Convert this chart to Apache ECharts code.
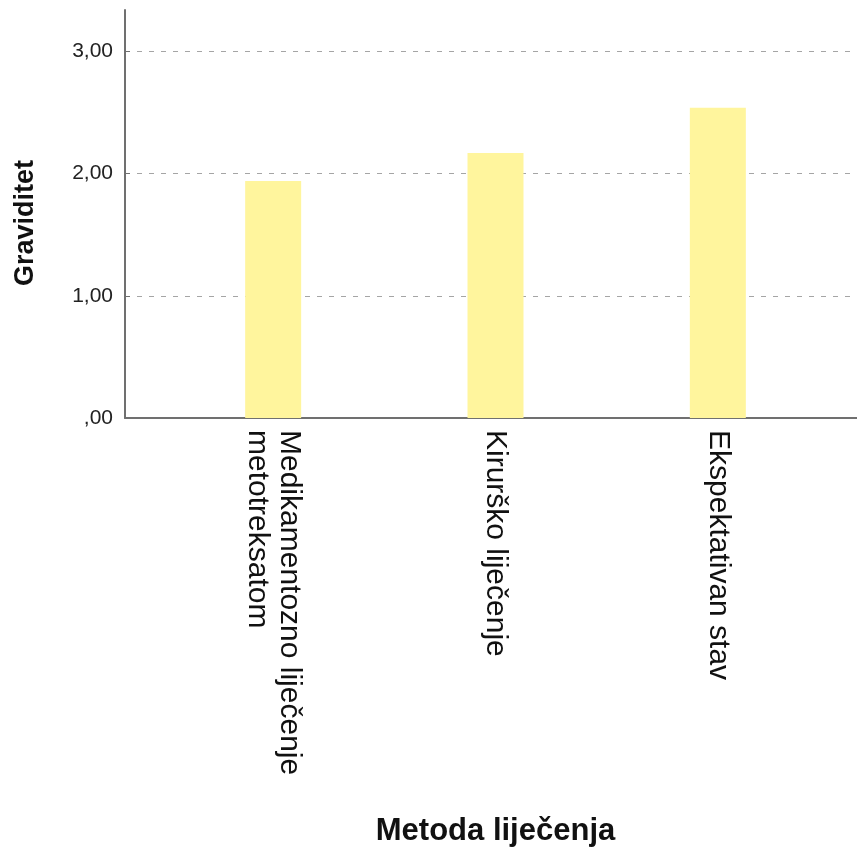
<!DOCTYPE html>
<html>
<head>
<meta charset="utf-8">
<script src="https://cdn.jsdelivr.net/npm/echarts@6/dist/echarts.min.js"></script>
<style>
html,body{margin:0;padding:0;background:#fff;}
#chart{width:857px;height:849px;}
</style>
</head>
<body>
<div id="chart"></div>
<script>
const categories = ['Medikamentozno liječenje\nmetotreksatom', 'Kirurško liječenje', 'Ekspektativan stav'];
const values = [1.94, 2.17, 2.54];
const yTicks = [0, 1, 2, 3];
const yTickLabels = [',00', '1,00', '2,00', '3,00'];
const yTitle = 'Graviditet';
const xTitle = 'Metoda liječenja';

const FONT = '"Liberation Sans", Arial, sans-serif';
const Y_MAX = 3.34;

const chart = echarts.init(document.getElementById('chart'), null, {renderer: 'canvas'});
chart.setOption({
  animation: false,
  backgroundColor: '#ffffff',
  grid: [
    {left: 125, right: 0, top: 10, bottom: 431, containLabel: false},
    {left: 162, right: 28, top: 10, bottom: 431, containLabel: false}
  ],
  xAxis: [
    {
      gridIndex: 0, type: 'value', min: 0, max: 1,
      axisLine: {show: true, onZero: false, lineStyle: {color: '#707070', width: 2}},
      axisTick: {show: false}, axisLabel: {show: false}, splitLine: {show: false}
    },
    {
      gridIndex: 1, type: 'category', data: categories,
      axisLine: {show: false}, axisTick: {show: false},
      axisLabel: {
        interval: 0, rotate: -90, margin: 12,
        fontFamily: FONT, fontSize: 30, color: '#111', lineHeight: 32,
        padding: [8, 0, 0, 0]
      },
      name: xTitle, nameLocation: 'middle', nameGap: 398,
      nameTextStyle: {fontFamily: FONT, fontSize: 31, fontWeight: 'bold', color: '#111'}
    }
  ],
  yAxis: [
    {
      gridIndex: 0, type: 'value', min: 0, max: Y_MAX, interval: 1,
      axisLine: {show: true, lineStyle: {color: '#707070', width: 2}},
      axisTick: {show: true, inside: true, length: 5, lineStyle: {color: '#707070', width: 1}},
      axisLabel: {
        margin: 12, fontFamily: FONT, fontSize: 21, color: '#222',
        showMaxLabel: false,
        formatter: function (v) {
          const i = yTicks.indexOf(Math.round(v * 100) / 100);
          return i >= 0 ? yTickLabels[i] : '';
        }
      },
      splitLine: {show: true, showMinLine: false, showMaxLine: false,
        lineStyle: {color: '#a5a5a5', width: 1, type: [5, 7]}},
      name: yTitle, nameLocation: 'middle', nameGap: 86, nameRotate: 90,
      nameTextStyle: {fontFamily: FONT, fontSize: 27, fontWeight: 'bold', color: '#111', padding: [0, 18, 0, 0]}
    },
    {
      gridIndex: 1, type: 'value', min: 0, max: Y_MAX, show: false
    }
  ],
  series: [{
    type: 'bar', xAxisIndex: 1, yAxisIndex: 1,
    data: values, barWidth: 56,
    itemStyle: {color: '#fff59d'}
  }]
});
</script>
</body>
</html>
